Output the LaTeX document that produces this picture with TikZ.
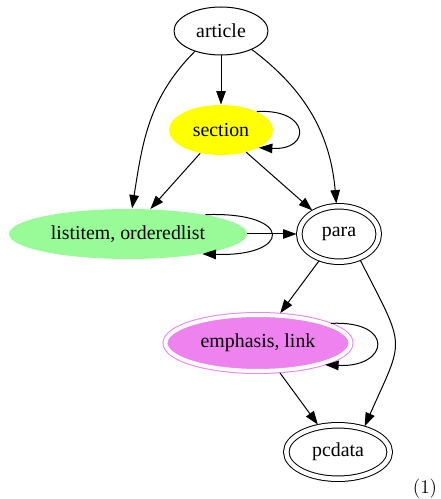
\documentclass[tikz,border=0pt]{standalone}
\usepackage{fontspec}
\usepackage{tikz}
\usetikzlibrary{arrows.meta}
\usetikzlibrary{shapes.geometric}
\newfontfamily\dotfont{Liberation Serif}
\definecolor{dotyellow}{HTML}{FFFF00}
\definecolor{dotgreen}{HTML}{98FB98}
\definecolor{dotviolet}{HTML}{EE82EE}

\begin{document}
\begin{tikzpicture}[line cap=round,line join=round,>={Triangle[length=2.7mm,width=1.9mm]},x=0.02cm,y=-0.02cm,
  line width=0.2mm,
  state/.style={ellipse,inner sep=0pt,font=\dotfont\fontsize{11.3}{13}\selectfont},
  plain/.style={state,draw},
  twice/.style={state,draw,double,double distance=0.9mm,outer sep=0.55mm},
  edge/.style={->}]
\useasboundingbox (0,0) rectangle (440,499);
\node[plain,minimum width=18.8mm,minimum height=9.6mm] (article) at (221,31) {article};
\node[state,fill=dotyellow,minimum width=20.8mm,minimum height=10mm] (section) at (221,130) {section};
\node[state,fill=dotgreen,minimum width=47.6mm,minimum height=10mm] (listitem) at (128,234) {listitem, orderedlist};
\node[twice,minimum width=15.9mm,minimum height=11.1mm] (para) at (339,234) {para};
\node[twice,draw=dotviolet,fill=dotviolet,double distance=0.8mm,minimum width=37mm,minimum height=11.2mm] (emphasis) at (258,343) {emphasis, link};
\node[twice,minimum width=20.7mm,minimum height=10.7mm] (pcdata) at (338,452) {pcdata};
\node[font=\fontsize{11}{13}\selectfont] (eqno) at (425,489) {(1)};
\draw[edge] (article) -- (section);
\draw[edge] (article.218) to[out=225,in=81] (listitem.81);
\draw[edge] (article.-31) to[out=-37,in=95] (para.95);
\draw[edge] (section) -- (listitem);
\draw[edge] (section) -- (para);
\draw[edge] (section.27) .. controls +(53,-3) and +(53,3) .. (section.-25);
\draw[edge] (listitem.east) -- (para.west);
\draw[edge] (listitem.14) .. controls +(89,-3) and +(89,3) .. (listitem.-15);
\draw[edge] (para) -- (emphasis);
\draw[edge] (para.-51) .. controls +(46,90) and +(40,-90) .. (pcdata.44);
\draw[edge] (emphasis.15) .. controls +(64,-3) and +(64,3) .. (emphasis.-18);
\draw[edge] (emphasis) -- (pcdata);
\end{tikzpicture}
\end{document}
